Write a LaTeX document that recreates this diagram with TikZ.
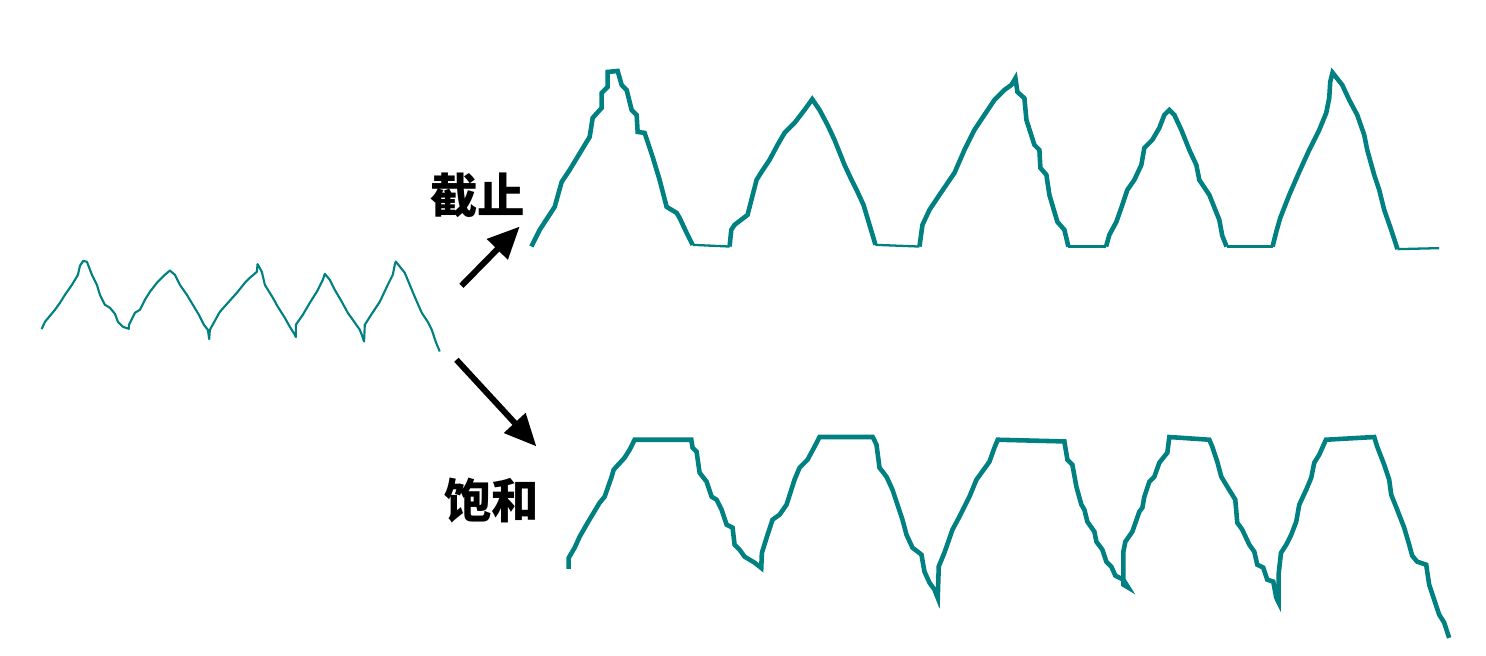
\documentclass[tikz,border=0pt]{standalone}
\usepackage{fontspec}
\newfontfamily\cjk{Noto Sans CJK SC}
\usetikzlibrary{arrows.meta}
\definecolor{wave}{RGB}{0,128,128}
\tikzset{
  thinwave/.style={draw=wave, line width=0.6pt, line join=round},
  thickwave/.style={draw=wave, line width=1.3pt, line join=miter},
  flatwave/.style={draw=wave, line width=0.65pt},
  bigarrow/.style={draw=black, line width=1.7pt, -{Triangle[length=0.32cm,width=0.28cm]}},
  label/.style={font=\cjk\bfseries\fontsize{13.5pt}{16pt}\selectfont, inner sep=0pt}
}
\begin{document}
\begin{tikzpicture}
\useasboundingbox (0,0) rectangle (14.86,6.56);
\begin{scope}[x=0.01cm, y=-0.01cm, shift={(0,6.56cm)}]
% input waveform
\draw[thinwave] (41.7,329.3) -- (45,322) -- (55,310) -- (60,303) -- (65,295) -- (72,285) -- (78,275) -- (80,266) -- (83.3,261) -- (87,262) -- (92,275) -- (97,285) -- (100,295) -- (105,305) -- (110,308) -- (115,314) -- (118,322) -- (123,327) -- (129,329) -- (129,325) -- (135,313) -- (140,310) -- (145,300) -- (150,292) -- (157,283) -- (165,275) -- (170,270.7) -- (175,275) -- (180,285) -- (187,295) -- (193,305) -- (199,315) -- (204,325) -- (208,330) -- (209.3,339.3) -- (210,330) -- (220,312) -- (228,303) -- (237,293) -- (245,283) -- (250,278) -- (257,272) -- (257.7,264.3) -- (262,272) -- (265,285) -- (273,298) -- (278,307) -- (285,318) -- (290,327) -- (295,335) -- (296,337.3) -- (296,325) -- (303,315) -- (310,303) -- (317,292) -- (323,280) -- (325,274) -- (330,280) -- (335,290) -- (342,302) -- (348,313) -- (353,320) -- (360,330) -- (362,335) -- (364.3,341.7) -- (365,325) -- (372,314) -- (380,302) -- (388,285) -- (393,275) -- (395,265) -- (396,261.7) -- (405,273) -- (410,285) -- (415,297) -- (422,313) -- (428,322) -- (432,330) -- (436,342) -- (440,351.7);
% cut-off waveform
\draw[thickwave] (531.7,246.7) -- (540,230) -- (555,207) -- (562,182) -- (570,170) -- (590,137) -- (593,118) -- (602,108) -- (602,93) -- (608,87) -- (608,72) -- (618,71) -- (622,85) -- (627,90) -- (632,110) -- (637,115) -- (638,132) -- (645,133) -- (653,157) -- (660,180) -- (667,207) -- (677,213) -- (680,218) -- (687,233) -- (693,245);
\draw[flatwave] (693,245) -- (730,246.7);
\draw[thickwave] (730,246.7) -- (731.7,230) -- (735,225) -- (748,215) -- (757,180) -- (762,172) -- (770,160) -- (778,145) -- (785,133) -- (795,123) -- (805,110) -- (812.7,99.3) -- (820,110) -- (828,125) -- (835,140) -- (845,165) -- (852,180) -- (858,192) -- (864,205) -- (870,225) -- (876,245);
\draw[flatwave] (876,245) -- (920,246.7);
\draw[thickwave] (920,246.7) -- (923,225) -- (930,210) -- (940,195) -- (955,173) -- (965,150) -- (975,130) -- (985,115) -- (995,100) -- (1005,90) -- (1012,85) -- (1016,78.3) -- (1018,92) -- (1025,98.3) -- (1027,120) -- (1035,145) -- (1040,150) -- (1041,168) -- (1047,175) -- (1050,195) -- (1055,212) -- (1058,222) -- (1065,230) -- (1069,246.7);
\draw[flatwave] (1069,246.7) -- (1106.7,246.7);
\draw[thickwave] (1106.7,246.7) -- (1110,235) -- (1117,222) -- (1123,205) -- (1128,190) -- (1135,180) -- (1142,165) -- (1145,148) -- (1153,140) -- (1160,128) -- (1165,115) -- (1170,110) -- (1175,115) -- (1182,130) -- (1190,150) -- (1197,165) -- (1200,180) -- (1210,195) -- (1216,210) -- (1220,220) -- (1223,236) -- (1227.3,246.7);
\draw[flatwave] (1227.3,246.7) -- (1273.3,246.7);
\draw[thickwave] (1273.3,246.7) -- (1277,232) -- (1281,218) -- (1290,195) -- (1300,172) -- (1310,150) -- (1320,130) -- (1327,113) -- (1330,98) -- (1331,82) -- (1333.3,72.7) -- (1343,85) -- (1350,100) -- (1358,115) -- (1365,135) -- (1368,150) -- (1375,175) -- (1380,190) -- (1385,210) -- (1392,230) -- (1398.3,249.3);
\draw[flatwave] (1398.3,249.3) -- (1440,248.3);
% saturation waveform
\draw[thickwave] (569,569.3) -- (569,558.3) -- (575,548) -- (580,537) -- (588,523) -- (600,503) -- (605,497) -- (612,477) -- (614,470) -- (625,458) -- (630,450) -- (635,440) -- (691.7,440) -- (693,448) -- (697,452) -- (700,473) -- (707,482) -- (712,497) -- (717,500) -- (722,510) -- (727,525) -- (733,528) -- (735,545) -- (740,550) -- (745,557) -- (755,563) -- (761.7,568.3) -- (762.3,553.3) -- (768,535) -- (773,520) -- (780,515) -- (787,505) -- (795,480) -- (800,468) -- (808,460) -- (815,447) -- (820,437.3) -- (873.3,437.3) -- (877,445) -- (880,468) -- (887,477) -- (893,490) -- (898,505) -- (903,520) -- (907,535) -- (913,548) -- (922,555) -- (925,572) -- (930,583) -- (935,590) -- (938.3,598.3) -- (939.3,566.7) -- (945,553) -- (953,530) -- (960,517) -- (970,497) -- (977,480) -- (990,462) -- (995,448) -- (998.3,440) -- (1065,441.7) -- (1068,460) -- (1073,465) -- (1077,487) -- (1082,505) -- (1085,510) -- (1088,522) -- (1095,532) -- (1097,542) -- (1103,550) -- (1107,562) -- (1112,567) -- (1116,576) -- (1124,580) -- (1129,588) -- (1124,585) -- (1124,552) -- (1126,542) -- (1133,532) -- (1140,512) -- (1143,508) -- (1145,497) -- (1150,482) -- (1155,477) -- (1160,463) -- (1168,453) -- (1170,437.3) -- (1210,440) -- (1213,447) -- (1218,462) -- (1222,477) -- (1228,487) -- (1236,500) -- (1238,523) -- (1243,530) -- (1250,545) -- (1255,552) -- (1258,565) -- (1264,568) -- (1268,580) -- (1274,582) -- (1277,598) -- (1279.3,602.7) -- (1279.3,575) -- (1281.7,553.3) -- (1287,545) -- (1292,535) -- (1297,522) -- (1300,505) -- (1307,490) -- (1312,478) -- (1315,463) -- (1320,455) -- (1326.7,440) -- (1375,437.3) -- (1378,447) -- (1385,465) -- (1390,480) -- (1392,495) -- (1398,510) -- (1405,528) -- (1410,545) -- (1413,556) -- (1418,562) -- (1427,565) -- (1430,585) -- (1435,600) -- (1440,615) -- (1445,623) -- (1450,638.3);
% arrows
\coordinate (a1s) at (461.7,286);
\coordinate (a1e) at (520,226.7);
\coordinate (a2s) at (456.7,360);
\coordinate (a2e) at (536.7,446.7);
\draw[bigarrow] (a1s) -- (a1e);
\draw[bigarrow] (a2s) -- (a2e);
% labels
\node[label] (cut) at (478,195) {截止};
\node[label] (sat) at (492,501) {饱和};
\end{scope}
\end{tikzpicture}
\end{document}
